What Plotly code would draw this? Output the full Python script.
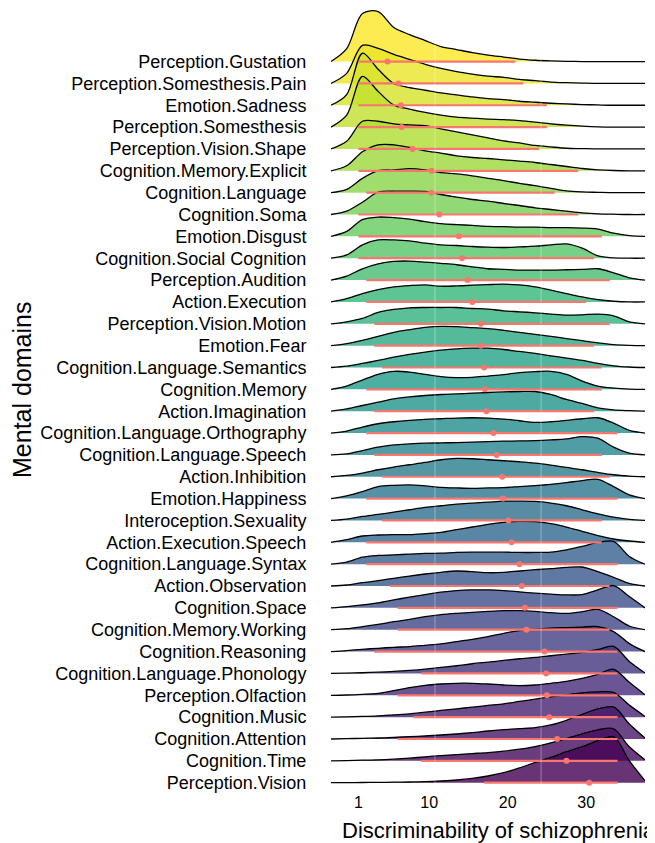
import plotly.graph_objects as go
from plotly.colors import sample_colorscale

# domains, listed top to bottom as in the chart
domains = [
    "Perception.Gustation", "Perception.Somesthesis.Pain", "Emotion.Sadness",
    "Perception.Somesthesis", "Perception.Vision.Shape", "Cognition.Memory.Explicit",
    "Cognition.Language", "Cognition.Soma", "Emotion.Disgust",
    "Cognition.Social Cognition", "Perception.Audition", "Action.Execution",
    "Perception.Vision.Motion", "Emotion.Fear", "Cognition.Language.Semantics",
    "Cognition.Memory", "Action.Imagination", "Cognition.Language.Orthography",
    "Cognition.Language.Speech", "Action.Inhibition", "Emotion.Happiness",
    "Interoception.Sexuality", "Action.Execution.Speech", "Cognition.Language.Syntax",
    "Action.Observation", "Cognition.Space", "Cognition.Memory.Working",
    "Cognition.Reasoning", "Cognition.Language.Phonology", "Perception.Olfaction",
    "Cognition.Music", "Cognition.Attention", "Cognition.Time", "Perception.Vision",
]

# interval (low / median / high) drawn in red
q_low = [1, 1, 1, 1, 1, 1, 2, 1, 1, 1, 2, 2, 3, 3, 4, 2, 3,
         2, 3, 4, 2, 4, 2, 2, 5, 6, 6, 3, 9, 6, 8, 6, 9, 17]
q_med = [4.7, 6.1, 6.4, 6.5, 7.9, 10.3, 10.3, 11.3, 13.8, 14.2, 14.9, 15.5,
         16.6, 16.6, 17.0, 17.1, 17.3, 18.2, 18.6, 19.3, 19.4, 20.1, 20.5,
         21.5, 21.8, 22.2, 22.4, 24.7, 24.9, 25.0, 25.3, 26.3, 27.5, 30.4]
q_high = [21, 22, 25, 25, 24, 29, 26, 29, 32, 31, 33, 30, 33, 31, 32, 32, 31,
          34, 32, 33, 34, 32, 32, 34, 33, 34, 33, 34, 34, 34, 34, 34, 34, 34]

# density heights sampled on x_grid
x_grid = [-2.5, -0.5, 1.5, 3.5, 5.5, 7.5, 9.5, 11.5, 13.5, 15.5, 17.5,
          19.5, 21.5, 23.5, 25.5, 27.5, 29.5, 31.5, 33.5, 35.5, 37.5]

gustation = [0, 13, 48, 50, 34, 27, 21, 15, 12, 9, 6.5, 4.5, 2.5, 1.3, 0.6, 0.2, 0, 0, 0, 0, 0]
pain = [0, 10, 38, 35, 29, 24, 19, 15, 11.7, 9.3, 7.3, 6, 4, 2.7, 1.3, 0.7, 0.3, 0, 0, 0, 0]
sadness = [0, 10.7, 52, 36, 21.7, 17.7, 15, 12.3, 10.3, 8.3, 6.7, 5.7, 4, 3, 2, 1.3, 0.7, 0.3, 0, 0, 0]
somesthesis = [0, 12, 50.7, 35.7, 22, 18, 14.7, 12, 10, 9, 8, 7.5, 6.5, 5, 3.3, 2, 1, 0.3, 0, 0, 0]
vision_shape = [0, 7.7, 27.7, 27.7, 25, 24, 23.3, 20, 17, 14, 11, 8, 6, 3.5, 2, 0.7, 0.3, 0, 0, 0, 0]
memory_explicit = [0, 5, 19, 26, 26, 23.3, 20, 17.7, 15, 13.3, 12.3, 11, 9.7, 8.3, 6.3, 4.3, 2.3, 1, 0.3, 0, 0]
language = [0, 3.3, 14.3, 22, 22.7, 24, 22.7, 20, 18.7, 16.7, 14.3, 12, 9.3, 7, 4.3, 1.7, 0.7, 0.3, 0, 0, 0]
soma = [0, 3.3, 12.3, 22.3, 23.3, 23.3, 23, 20, 17.3, 15, 13.3, 11, 9, 6.7, 5, 3.3, 1.7, 0.7, 0.3, 0, 0]
disgust = [0, 5, 16.7, 19.3, 18.7, 17.3, 14.7, 12.7, 11.7, 11, 10, 9.7, 9.3, 9.3, 8.7, 8.7, 8.3, 7.3, 3.3, 0.7, 0]
social = [0, 3.3, 13.3, 18.3, 18.3, 17.3, 15, 13.3, 12.7, 11.7, 11, 10.7, 11.3, 12, 13.3, 14.3, 10, 2.3, 0.3, 0, 0]
audition = [0, 4, 11.3, 16.3, 18.7, 19, 18, 16.7, 15.3, 13.3, 11.3, 10.7, 10, 10, 10, 10.3, 10.7, 11.3, 7.3, 2.3, 0]
execution = [0, 3.3, 8.3, 12.3, 15, 16.3, 17, 15.7, 16, 16.7, 17.3, 17.7, 17, 15, 11.7, 8.3, 5, 2.3, 0.7, 0, 0]
vision_motion = [0, 2, 5.3, 11.3, 14.3, 16, 16.3, 16.3, 16.3, 15.3, 14.7, 13, 12, 11, 9.7, 8.7, 9, 9.7, 8, 2, 0]
fear = [0, 2, 5.3, 9.3, 13.3, 16, 18.3, 19.3, 19, 18, 17, 15.3, 13.3, 11.3, 9.3, 7, 5, 2.7, 1, 0.3, 0]
semantics = [0, 1.3, 4, 7, 10.3, 13, 15.3, 17.3, 18.7, 19.3, 19.3, 18, 16, 14, 11.7, 9.3, 7, 4, 1.7, 0.5, 0]
memory = [0, 3.3, 9.3, 15, 18, 17.3, 15, 12.7, 11.7, 12, 13.3, 14.7, 16.7, 17.7, 18, 15, 8.3, 3.3, 1.3, 0.3, 0]
imagination = [0, 2.3, 5.7, 9, 12.3, 14.3, 15.7, 16.7, 17.3, 18, 18.7, 19.3, 19.7, 19.7, 16.7, 11.7, 7.7, 3.3, 1.3, 0.5, 0]
orthography = [0, 2, 6, 9.3, 11.3, 12.7, 13.7, 14.3, 15, 15.3, 15, 14, 12.3, 10.7, 11.3, 12.7, 14.3, 15.3, 10, 2.7, 0]
lang_speech = [0, 1, 4.3, 7.7, 10, 11, 11.7, 12, 12.3, 12.7, 13.3, 13.7, 14, 14.3, 15, 16, 18.3, 16.7, 7.7, 1.7, 0]
inhibition = [0, 1.3, 3.7, 7, 9.7, 12, 14.3, 17, 18.3, 18, 17, 16, 15, 13.7, 11.7, 9.3, 7, 4.3, 2, 0.7, 0]
happiness = [0, 2.7, 7, 12, 13.3, 13.7, 12.7, 11.3, 10.7, 10.3, 10.7, 11, 12, 13, 14.3, 16, 18, 19.3, 12, 3.7, 0]
sexuality = [0, 1.3, 4, 6, 8.3, 10.7, 13, 14.7, 16.3, 17.3, 18.3, 19.3, 19.3, 19, 17.3, 14.7, 10.7, 6.7, 3.3, 1, 0]
exec_speech = [0, 2.7, 6.3, 7.3, 7.7, 7.7, 8.7, 10, 12.7, 15.3, 18, 20, 21, 20.7, 18.7, 15.3, 11, 6.7, 3.3, 1.3, 0]
syntax = [0, 2, 7, 8.7, 9.3, 10, 10.7, 11, 11.7, 12, 12, 12, 11.7, 11.7, 12, 14.3, 17.7, 21.7, 22.7, 7.7, 0]
observation = [0, 1, 3.3, 5.3, 7.7, 10, 12, 13.7, 15, 14.3, 13.3, 13.7, 15, 16.3, 17.3, 18.7, 19, 14.3, 8.7, 2.7, 0]
space = [0, 1.3, 3, 5, 8, 10.7, 13.3, 15.7, 17.3, 18, 18, 17.3, 16, 14.7, 13.7, 13, 13.3, 18, 22.3, 11.3, 0]
memory_working = [0, 1, 3, 5.3, 8, 10.3, 13, 15, 16.3, 17.3, 18.3, 19, 19, 18.3, 17, 16.3, 18, 20.3, 13, 3.7, 0]
reasoning = [0, 1, 2.3, 3.3, 4.3, 5, 6.3, 7.7, 10, 12.3, 15, 18.3, 21, 22.5, 23.5, 24, 24.5, 25, 20, 8, 0]
phonology = [0, 0.3, 0.7, 1.3, 2, 3, 4.3, 6, 7.7, 9.7, 11.3, 13, 14.7, 16, 17.7, 19.3, 21, 24, 27, 12, 0.5]
olfaction = [0, 0.3, 1, 2, 4.7, 7.7, 10, 11.3, 12, 12, 11.3, 10.3, 9.7, 10.3, 12, 14, 17, 21, 26, 13, 0.5]
music = [0, 0.3, 0.7, 1.3, 2.3, 3.3, 5, 6.7, 8.3, 10, 11.7, 13.3, 15.7, 18, 20.3, 22.3, 24.3, 25.3, 24.7, 12, 0.7]
attention = [0, 0.3, 0.7, 1, 1.7, 2.3, 3, 4, 5, 6.3, 8, 9.3, 10.3, 11.3, 14, 18.7, 24.7, 30, 32, 15, 1]
time_ = [0, 0.3, 0.7, 1, 1.7, 2.7, 4, 5.3, 6.3, 7.3, 8.3, 9.7, 11.7, 14.3, 18, 22.3, 27, 31, 32, 14, 1]
vision = [0, 0.1, 0.2, 0.3, 0.5, 0.7, 1, 1.7, 2.7, 4.3, 6.7, 10, 14.7, 20.3, 25.3, 31, 36, 42, 46, 22, 2]

densities = [
    gustation, pain, sadness, somesthesis, vision_shape, memory_explicit,
    language, soma, disgust, social, audition, execution, vision_motion, fear,
    semantics, memory, imagination, orthography, lang_speech, inhibition,
    happiness, sexuality, exec_speech, syntax, observation, space,
    memory_working, reasoning, phonology, olfaction, music, attention, time_,
    vision,
]

n = len(domains)
ROW_PX = 21.85          # pixel spacing between ridges
SCALE = 1.0 / ROW_PX    # density height -> row units
positions = [n - 1 - i for i in range(n)]

cols = sample_colorscale("Viridis", [1 - i / (n - 1) for i in range(n)])
fills = [c.replace("rgb(", "rgba(").replace(")", ",0.8)") for c in cols]

fig = go.Figure()

# top ridge first, so lower ridges sit in front
for i in range(n):
    base = positions[i]
    fig.add_trace(go.Scatter(
        x=x_grid, y=[base] * len(x_grid), mode="lines",
        line=dict(width=0, color="rgba(0,0,0,0)"), hoverinfo="skip", showlegend=False,
    ))
    fig.add_trace(go.Scatter(
        x=x_grid, y=[base + h * SCALE for h in densities[i]], mode="lines",
        line=dict(color="black", width=1.3, shape="spline", smoothing=0.9),
        fill="tonexty", fillcolor=fills[i], showlegend=False, name=domains[i],
    ))

seg_x, seg_y = [], []
for i in range(n):
    seg_x += [q_low[i], q_high[i], None]
    seg_y += [positions[i], positions[i], None]

fig.add_trace(go.Scatter(
    x=seg_x, y=seg_y, mode="lines", line=dict(color="#F8766D", width=2.2),
    hoverinfo="skip", showlegend=False,
))
fig.add_trace(go.Scatter(
    x=q_med, y=positions, mode="markers",
    marker=dict(color="#F8766D", size=6), showlegend=False,
))

# faint light lines visible over the fills
for xv in [10.75, 24.26]:
    fig.add_shape(type="line", x0=xv, x1=xv, y0=0, y1=1, xref="x", yref="paper",
                  line=dict(color="rgba(255,255,255,0.35)", width=1), layer="above")

font_family = "Liberation Sans, Arial, Helvetica, sans-serif"

# page body adds an 8px offset, so the figure is 8px smaller on each axis
fig.update_layout(
    width=647, height=835,
    margin=dict(l=323, r=10, t=0, b=52),
    paper_bgcolor="white", plot_bgcolor="white",
    font=dict(family=font_family, color="black"),
    xaxis=dict(
        range=[-2.5, 37.5], tickvals=[1, 10, 20, 30], ticktext=["1", "10", "20", "30"],
        showgrid=False, zeroline=False, showline=False, ticks="",
        tickfont=dict(size=16, color="black"),
    ),
    yaxis=dict(
        range=[-0.38, 35.45], tickvals=positions, ticktext=domains,
        showgrid=False, zeroline=False, showline=False,
        ticks="outside", ticklen=20, tickcolor="rgba(0,0,0,0)",
        tickfont=dict(size=18, color="black"),
    ),
    annotations=[
        dict(text="Discriminability of schizophrenia", xref="paper", yref="paper",
             x=(332 - 323) / 314, y=-(822 - 783) / 783, xanchor="left", yanchor="middle",
             showarrow=False, font=dict(size=22, color="black")),
        dict(text="Mental domains", xref="paper", yref="paper",
             x=(14 - 323) / 314, y=(783 - 382) / 783, xanchor="center", yanchor="middle",
             textangle=-90, showarrow=False, font=dict(size=25, color="black")),
    ],
)

fig.write_html("out.html")
